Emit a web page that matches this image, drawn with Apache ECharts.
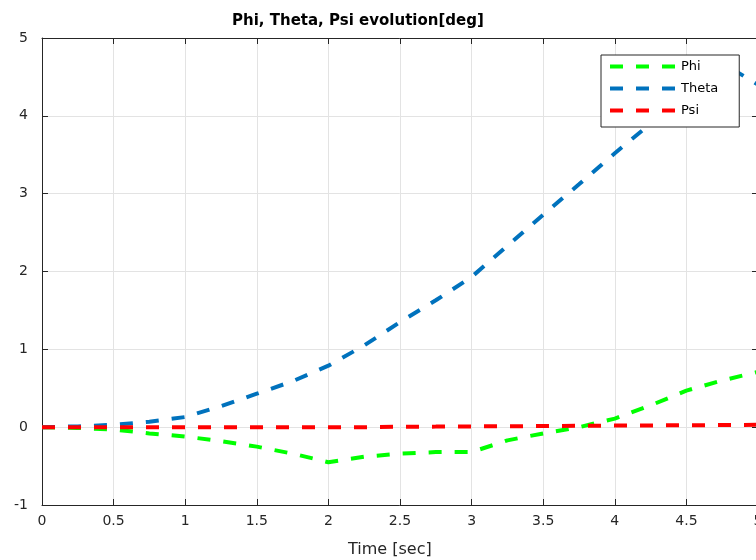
<!DOCTYPE html>
<html>
<head>
<meta charset="utf-8">
<script src="https://cdn.jsdelivr.net/npm/echarts@6/dist/echarts.min.js"></script>
<style>html,body{margin:0;padding:0;background:#fff}#c{width:756px;height:560px}</style>
</head>
<body>
<div id="c"></div>
<script>
const times = [0, 0.25, 0.5, 0.75, 1, 1.25, 1.5, 1.75, 2, 2.25, 2.5, 2.75, 3, 3.25, 3.5, 3.75, 4, 4.25, 4.5, 4.75, 5];
const phi   = [0, -0.01, -0.03, -0.08, -0.12, -0.18, -0.25, -0.34, -0.45, -0.38, -0.34, -0.32, -0.32, -0.17, -0.08, 0.0, 0.11, 0.28, 0.47, 0.6, 0.71];
const theta = [0, 0.01, 0.03, 0.07, 0.13, 0.27, 0.43, 0.59, 0.79, 1.05, 1.35, 1.63, 1.93, 2.33, 2.73, 3.12, 3.52, 3.9, 4.3, 4.68, 4.4];
const psi   = [0, 0, 0, 0, 0, 0, 0, 0, 0, 0, 0.005, 0.007, 0.01, 0.012, 0.015, 0.017, 0.02, 0.022, 0.025, 0.027, 0.03];
const seriesNames = ['Phi', 'Theta', 'Psi'];
const seriesColors = ['#00ff00', '#0072bd', '#ff0000'];
const xTicks = {min: 0, max: 5, interval: 0.5};
const yTicks = {min: -1, max: 5, interval: 1};

const pair = arr => times.map((t, i) => [t, arr[i]]);
const dataSets = [phi, theta, psi];
const font = '"DejaVu Sans", Verdana, sans-serif';
const axisCol = '#262626';

const chart = echarts.init(document.getElementById('c'), null, {renderer: 'canvas'});
const baseX = {
  type: 'value', min: xTicks.min, max: xTicks.max, interval: xTicks.interval,
  axisLine: {show: true, onZero: false, lineStyle: {color: axisCol, width: 1}},
  axisTick: {show: true, inside: true, length: 6, lineStyle: {color: axisCol}},
};
const baseY = {
  type: 'value', min: yTicks.min, max: yTicks.max, interval: yTicks.interval,
  axisLine: {show: true, onZero: false, lineStyle: {color: axisCol, width: 1}},
  axisTick: {show: true, inside: true, length: 6, lineStyle: {color: axisCol}},
};
chart.setOption({
  animation: false,
  backgroundColor: '#fff',
  title: [
    {text: 'Phi, Theta, Psi evolution[deg]', left: 227, top: 9,
     textStyle: {fontFamily: font, fontSize: 15, fontWeight: 'bold', color: '#000'}},
    {text: 'Time [sec]', left: 343, top: 537,
     textStyle: {fontFamily: font, fontSize: 16, fontWeight: 'normal', color: axisCol}}
  ],
  grid: {left: 42, top: 38, right: -2, bottom: 55, containLabel: false, outerBoundsMode: 'none'},
  legend: {
    orient: 'vertical', left: 601, top: 55,
    padding: [5, 21, 10, 7], itemGap: 9, itemWidth: 66, itemHeight: 14,
    backgroundColor: '#fff', borderColor: axisCol, borderWidth: 1,
    itemStyle: {opacity: 0},
    lineStyle: {width: 4, type: [13, 13], cap: 'butt'},
    textStyle: {fontFamily: font, fontSize: 13, color: '#000'},
    data: seriesNames, z: 10
  },
  xAxis: [
    Object.assign({}, baseX, {position: 'bottom',
      axisLabel: {fontFamily: font, fontSize: 14, color: axisCol, margin: 9},
      splitLine: {show: true, lineStyle: {color: '#e3e3e3', width: 1}}}),
    Object.assign({}, baseX, {position: 'top', axisLabel: {show: false}, splitLine: {show: false}})
  ],
  yAxis: [
    Object.assign({}, baseY, {position: 'left',
      axisLabel: {fontFamily: font, fontSize: 14, color: axisCol, margin: 14},
      splitLine: {show: true, lineStyle: {color: '#e3e3e3', width: 1}}}),
    Object.assign({}, baseY, {position: 'right', axisLabel: {show: false}, splitLine: {show: false}})
  ],
  series: seriesNames.map((n, i) => ({
    name: n, type: 'line', xAxisIndex: 0, yAxisIndex: 0,
    data: pair(dataSets[i]), showSymbol: false, symbol: 'none', smooth: false,
    color: seriesColors[i],
    lineStyle: {color: seriesColors[i], width: 4, type: [13, 13], cap: 'butt'},
    z: 2 + i
  }))
});
</script>
</body>
</html>
